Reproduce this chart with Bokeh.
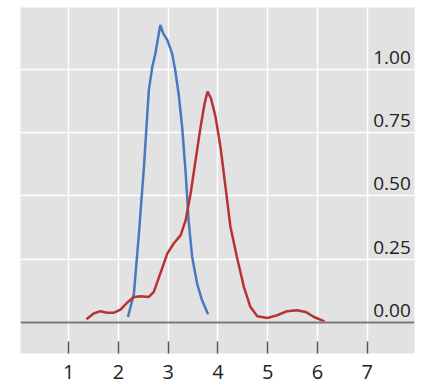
from bokeh.plotting import figure
from bokeh.models import Span, FixedTicker, ColumnDataSource
from bokeh.core.properties import value
from bokeh.embed import file_html
from bokeh.resources import INLINE

# Blue density curve
blue_x = [2.19, 2.31, 2.41, 2.51, 2.61, 2.68, 2.74, 2.84, 2.90, 2.98, 3.08, 3.14,
          3.21, 3.28, 3.35, 3.41, 3.48, 3.58, 3.68, 3.80]
blue_y = [0.022, 0.114, 0.35, 0.61, 0.917, 1.01, 1.06, 1.174, 1.14, 1.115, 1.06, 0.996,
          0.90, 0.77, 0.59, 0.40, 0.26, 0.154, 0.088, 0.033]

# Red density curve
red_x = [1.355, 1.50, 1.64, 1.77, 1.91, 2.04, 2.17, 2.31, 2.44, 2.61, 2.71, 2.84,
         2.98, 3.11, 3.25, 3.35, 3.45, 3.55, 3.65, 3.73, 3.79, 3.86, 3.95, 4.05,
         4.15, 4.25, 4.38, 4.52, 4.65, 4.79, 4.99, 5.19, 5.39, 5.59, 5.76, 5.93, 6.14]
red_y = [0.013, 0.036, 0.045, 0.039, 0.039, 0.051, 0.078, 0.101, 0.104, 0.101, 0.121, 0.193,
         0.272, 0.312, 0.345, 0.404, 0.509, 0.641, 0.772, 0.864, 0.911, 0.884, 0.812, 0.693,
         0.536, 0.378, 0.259, 0.141, 0.062, 0.025, 0.018, 0.029, 0.045, 0.049, 0.042, 0.022, 0.005]

x_ticks = [1, 2, 3, 4, 5, 6, 7]
y_ticks = [0.0, 0.25, 0.5, 0.75, 1.0]
y_tick_labels = ["0.00", "0.25", "0.50", "0.75", "1.00"]

FONT = "Open Sans"

p = figure(width=420, height=383, x_range=(0.03, 7.95), y_range=(-0.122, 1.243),
           output_backend="svg", toolbar_location=None,
           min_border_left=20, min_border_right=6, min_border_top=7, min_border_bottom=30)

p.background_fill_color = "#e2e2e2"
p.border_fill_color = "white"
p.outline_line_color = None

# grids
p.xgrid.ticker = FixedTicker(ticks=x_ticks)
p.ygrid.ticker = FixedTicker(ticks=y_ticks[1:])
p.xgrid.grid_line_color = "white"
p.ygrid.grid_line_color = "white"
p.xgrid.grid_line_width = 1.5
p.ygrid.grid_line_width = 1.5

# x axis
p.xaxis.ticker = FixedTicker(ticks=x_ticks)
p.xaxis.axis_line_color = None
p.xaxis.major_tick_in = 12
p.xaxis.major_tick_out = 0
p.xaxis.major_tick_line_color = "#555555"
p.xaxis.major_tick_line_width = 1.5
p.xaxis.minor_tick_line_color = None
p.xaxis.major_label_standoff = 11
p.xaxis.major_label_text_font = FONT
p.xaxis.major_label_text_font_size = "20px"
p.xaxis.major_label_text_color = "#222222"

p.yaxis.visible = False

# zero line
p.add_layout(Span(location=0, dimension="width", line_color="#7a7a7a", line_width=2))

# curves
p.line(blue_x, blue_y, line_color="#4a78bf", line_width=2.5)
p.line(red_x, red_y, line_color="#b83232", line_width=2.5)

# y tick labels inside the panel
lab_src = ColumnDataSource(dict(y=y_ticks, t=y_tick_labels, x=[7.12] * len(y_ticks)))
p.text(x="x", y="y", text="t", source=lab_src, text_font=value(FONT),
       text_font_size="19px", text_color="#222222", text_align="left",
       text_baseline="middle", y_offset=-12)

open("out.html", "w").write(file_html(p, INLINE))
